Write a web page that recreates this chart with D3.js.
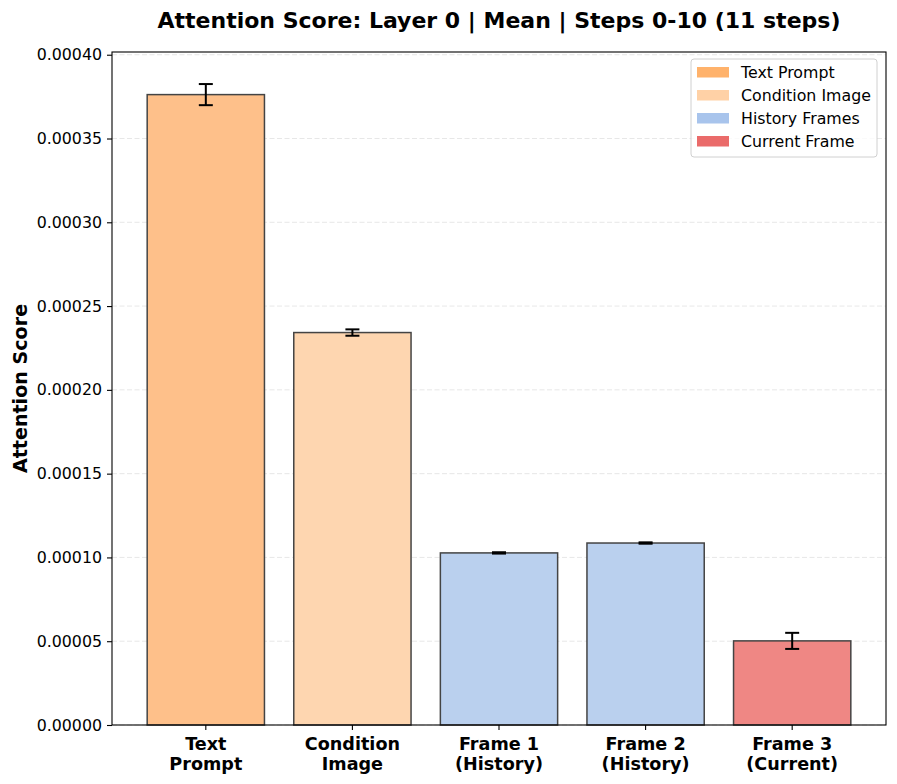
<!DOCTYPE html>
<html>
<head>
<meta charset="utf-8">
<script src="https://cdnjs.cloudflare.com/ajax/libs/d3/7.8.5/d3.min.js"></script>
<style>
  body { margin: 0; background: #fff; }
  text { font-family: "DejaVu Sans", sans-serif; }
</style>
</head>
<body>
<div id="chart"></div>
<script>
/* DATA */

const categories = [["Text", "Prompt"], ["Condition", "Image"], ["Frame 1", "(History)"], ["Frame 2", "(History)"], ["Frame 3", "(Current)"]];
const scores = [0.0003762, 0.0002342, 0.0001027, 0.0001086, 0.0000502];
const errors = [0.0000063, 0.0000019, 0.0000004, 0.0000004, 0.0000048];
const groups = ["text", "cond", "hist", "hist", "curr"];
const yTicks = [0, 0.00005, 0.0001, 0.00015, 0.0002, 0.00025, 0.0003, 0.00035, 0.0004];
const legendItems = [
  { key: "text", label: "Text Prompt" },
  { key: "cond", label: "Condition Image" },
  { key: "hist", label: "History Frames" },
  { key: "curr", label: "Current Frame" },
];

/* SET UP */

const w = 897;
const h = 784;
const m = { top: 52, right: 11, bottom: 59, left: 112 };

const barFill = { text: "#fec08a", cond: "#fed6b0", hist: "#bad0ee", curr: "#ef8784" };
const legendFill = { text: "#ffb26b", cond: "#ffd1a6", hist: "#a8c4ec", curr: "#ea6b6a" };

const svg = d3
  .select("#chart")
  .append("svg")
  .attr("width", w)
  .attr("height", h);

// matplotlib-like limits: bars at 0..4, width 0.8, 5% margin
const x = d3
  .scaleLinear()
  .domain([-0.64, categories.length - 1 + 0.64])
  .range([m.left, w - m.right]);

const yMax = d3.max(scores.map((d, i) => d + errors[i])) * 1.05;
const y = d3
  .scaleLinear()
  .domain([0, yMax])
  .range([h - m.bottom, m.top]);

// grid
svg
  .append("g")
  .selectAll("line")
  .data(yTicks)
  .join("line")
  .attr("x1", m.left)
  .attr("x2", w - m.right)
  .attr("y1", (d) => y(d))
  .attr("y2", (d) => y(d))
  .attr("stroke", "#b0b0b0")
  .attr("stroke-opacity", 0.3)
  .attr("stroke-width", 1)
  .attr("stroke-dasharray", "5,2.5");

// bars
svg
  .append("g")
  .selectAll("rect")
  .data(scores)
  .join("rect")
  .attr("x", (d, i) => x(i - 0.4))
  .attr("width", x(0.4) - x(-0.4))
  .attr("y", (d) => y(d))
  .attr("height", (d) => y(0) - y(d))
  .attr("fill", (d, i) => barFill[groups[i]])
  .attr("stroke", "#444")
  .attr("stroke-width", 1.5);

// error bars
const err = svg.append("g").attr("stroke", "#000").attr("stroke-width", 2);
scores.forEach((d, i) => {
  const cx = x(i);
  err.append("line").attr("x1", cx).attr("x2", cx).attr("y1", y(d - errors[i])).attr("y2", y(d + errors[i]));
  [d - errors[i], d + errors[i]].forEach((v) => {
    err.append("line").attr("x1", cx - 7).attr("x2", cx + 7).attr("y1", y(v)).attr("y2", y(v));
  });
});

// frame
svg
  .append("rect")
  .attr("x", m.left)
  .attr("y", m.top)
  .attr("width", w - m.right - m.left)
  .attr("height", h - m.bottom - m.top)
  .attr("fill", "none")
  .attr("stroke", "#000")
  .attr("stroke-width", 1.1);

// y axis
const yAxis = d3
  .axisLeft(y)
  .tickValues(yTicks)
  .tickFormat(d3.format(".5f"))
  .tickSize(5)
  .tickPadding(5);

svg
  .append("g")
  .attr("transform", `translate(${m.left},0)`)
  .call(yAxis)
  .call((g) => g.select(".domain").remove())
  .call((g) => g.selectAll("text").attr("font-size", "15.8px").attr("fill", "#000").attr("font-family", "DejaVu Sans"))
  .call((g) => g.selectAll("line").attr("stroke", "#000").attr("stroke-width", 1.1));

// x axis
const xTicks = svg
  .append("g")
  .selectAll("g")
  .data(categories)
  .join("g")
  .attr("transform", (d, i) => `translate(${x(i)},${h - m.bottom})`);

xTicks.append("line").attr("y2", 5).attr("stroke", "#000").attr("stroke-width", 1.1);

xTicks
  .append("text")
  .attr("text-anchor", "middle")
  .attr("font-size", "17.6px")
  .attr("font-weight", "bold")
  .selectAll("tspan")
  .data((d) => d)
  .join("tspan")
  .attr("x", 0)
  .attr("y", (d, i) => 25 + i * 20)
  .text((d) => d);

// title and y label
svg
  .append("text")
  .attr("x", (m.left + w - m.right) / 2)
  .attr("y", 28)
  .attr("text-anchor", "middle")
  .attr("font-size", "22px")
  .attr("font-weight", "bold")
  .text("Attention Score: Layer 0 | Mean | Steps 0-10 (11 steps)");

svg
  .append("text")
  .attr("transform", `translate(27,${(m.top + h - m.bottom) / 2}) rotate(-90)`)
  .attr("text-anchor", "middle")
  .attr("font-size", "19.1px")
  .attr("font-weight", "bold")
  .text("Attention Score");

// legend
const lg = svg.append("g").attr("transform", "translate(691,59)");
lg.append("rect")
  .attr("width", 186)
  .attr("height", 98)
  .attr("rx", 3)
  .attr("fill", "#fff")
  .attr("fill-opacity", 0.8)
  .attr("stroke", "#d0d0d0")
  .attr("stroke-width", 1);

const li = lg
  .selectAll(".item")
  .data(legendItems)
  .join("g")
  .attr("class", "item")
  .attr("transform", (d, i) => `translate(6,${13 + i * 23})`);

li.append("rect")
  .attr("y", -5)
  .attr("width", 32)
  .attr("height", 10.5)
  .attr("fill", (d) => legendFill[d.key]);

li.append("text")
  .attr("x", 44)
  .attr("y", 5.5)
  .attr("font-size", "15.8px")
  .text((d) => d.label);
</script>
</body>
</html>
